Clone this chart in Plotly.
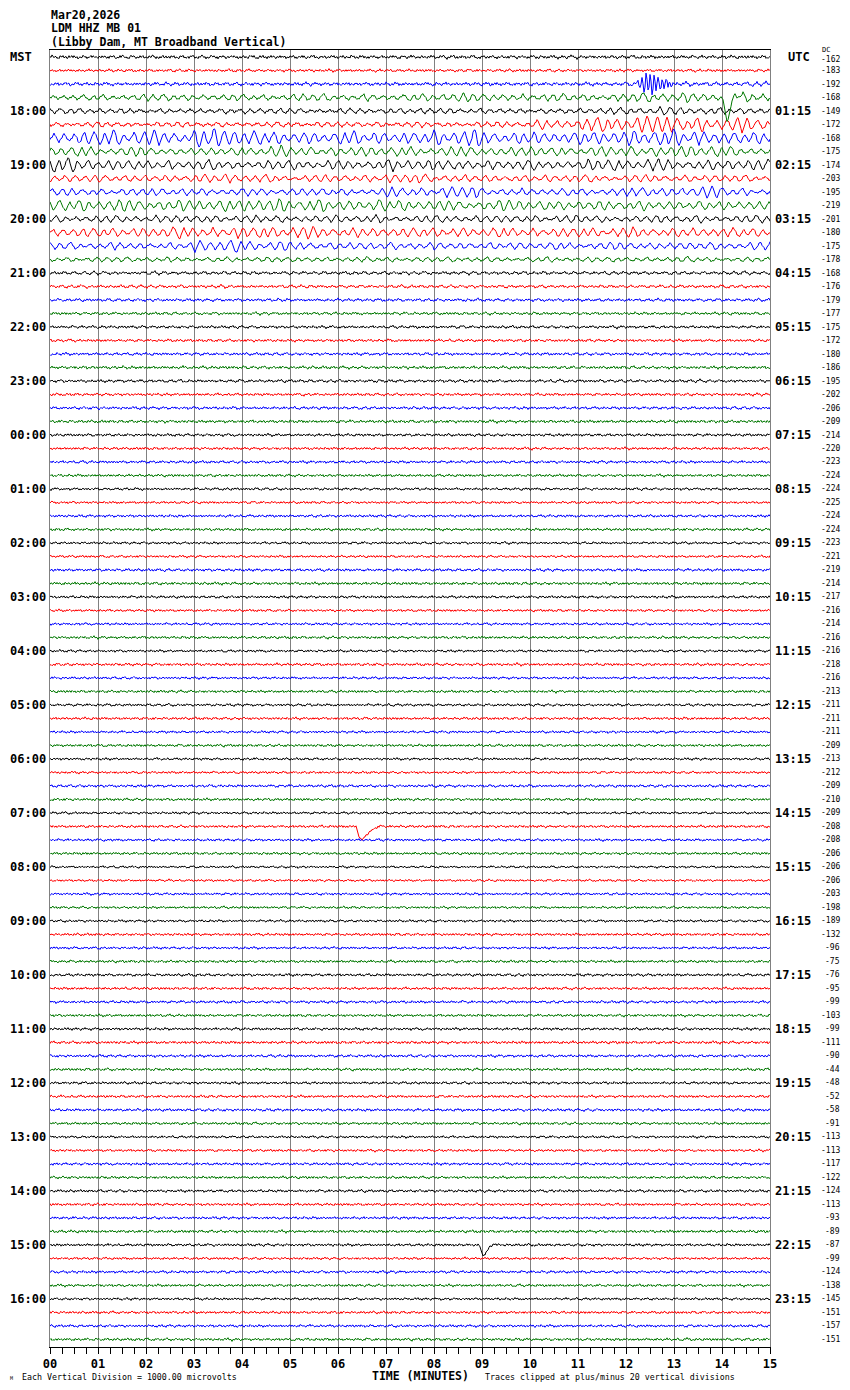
import plotly.graph_objects as go
import numpy as np

# ── header / labels ─────────────────────────────────────────────────────────
TITLE_LINES = ["Mar20,2026", "LDM HHZ MB 01", "(Libby Dam, MT Broadband Vertical)"]
MST_LABELS = ["18:00", "19:00", "20:00", "21:00", "22:00", "23:00", "00:00", "01:00",
              "02:00", "03:00", "04:00", "05:00", "06:00", "07:00", "08:00", "09:00",
              "10:00", "11:00", "12:00", "13:00", "14:00", "15:00", "16:00"]
UTC_LABELS = ["01:15", "02:15", "03:15", "04:15", "05:15", "06:15", "07:15", "08:15",
              "09:15", "10:15", "11:15", "12:15", "13:15", "14:15", "15:15", "16:15",
              "17:15", "18:15", "19:15", "20:15", "21:15", "22:15", "23:15"]
MINUTE_LABELS = ["00", "01", "02", "03", "04", "05", "06", "07",
                 "08", "09", "10", "11", "12", "13", "14", "15"]

# DC offset printed at the right of each of the 96 traces
DC_OFFSETS = [-162, -183, -192, -168, -149, -172, -168, -175, -174, -203, -195, -219,
              -201, -180, -175, -178, -168, -176, -179, -177, -175, -172, -180, -186,
              -195, -202, -206, -209, -214, -220, -223, -224, -224, -225, -224, -224,
              -223, -221, -219, -214, -217, -216, -214, -216, -216, -218, -216, -213,
              -211, -211, -211, -209, -213, -212, -209, -210, -209, -208, -208, -206,
              -206, -206, -203, -198, -189, -132, -96, -75, -76, -95, -99, -103,
              -99, -111, -90, -44, -48, -52, -58, -91, -113, -113, -117, -122,
              -124, -113, -93, -89, -87, -99, -124, -138, -145, -151, -157, -151]

TRACE_COLORS = ["#000000", "#ff0000", "#0000ff", "#007800"]

# ── waveform texture (hand-read, pixels) ────────────────────────────────────
# short period jitter shape
NOISE_SHAPE = [0.3, -0.6, 0.9, -0.2, -0.8, 0.5, 0.7, -0.4, 0.1, -0.9,
               0.8, 0.0, -0.5, 0.6, -0.7, 0.2, 0.9, -0.6, -0.3, 1.0,
               -0.5, 0.1, 0.4, -1.0, 0.6, -0.1, -0.3, 0.8, -0.7, 0.2,
               0.5, -0.4, -0.8, 0.7, 0.1, -0.2, 0.9, -0.6, 0.3, -0.5,
               0.0, 0.6, -0.9, 0.4, 0.2, -0.3, 0.8, -0.1, -0.7, 0.5,
               0.3, -0.8, 0.6, -0.4, 0.1, 0.9, -0.2, -0.6, 0.4, -0.9,
               0.7, 0.2, -0.5, 0.0, 0.8, -0.3, -0.7, 0.5, 0.1, -0.4,
               0.9, -0.8, 0.3, 0.6, -0.2, -0.5, 0.7, -0.1, 0.4, -0.9,
               0.2, 0.8, -0.6, -0.3, 0.5, 0.0, -0.7, 0.6, 0.3, -0.4,
               0.9, -0.5, -0.1, 0.7, -0.8, 0.2, 0.4]
# microseism swell shape (periods of ~8-12 px)
SWELL_SHAPE = [0, .6, 1, .9, .5, -.1, -.7, -1, -.8, -.4,
               .1, .6, .85, .7, .2, -.4, -.85, -.9, -.5,
               -.1, .3, .7, 1, .95, .6, .1, -.4, -.8, -1, -.9, -.5,
               0, .5, .7, .4, -.1, -.6, -.7, -.4,
               0, .4, .8, 1, .8, .3, -.3, -.8, -1, -.8, -.4,
               .1, .5, .6, .4, 0, -.3, -.5, -.5, -.3, -.1,
               .2, .7, 1, .8, .3, -.3, -.8, -1, -.6,
               -.2, .2, .6, .9, .8, .4, -.1, -.6, -.9, -.8, -.4]
# slow beating of the swell, one value per 14 px block
SWELL_ENV = [1.0, 0.7, 1.2, 0.5, 0.9, 1.3, 0.6, 1.0, 0.4, 1.1, 0.8, 1.2,
             0.6, 0.9, 1.3, 0.7, 0.5, 1.0, 1.2, 0.8, 0.6, 1.1, 0.9]

# swell half-amplitude per minute for the first 17 traces (px)
SWELL_TOP = [
    [1, 1, 1, 1, 1, 1, 1, 1, 1, 1, 1, 1, 1, 1, 1],
    [.8, .8, .8, .8, .8, .8, .8, .8, .8, .8, .8, .8, .8, .8, .8],
    [1, 1, 1, 1, 1, 1, 1, 1, 1, 1, 1, 1, 1.5, 1.5, 1.5],
    [2.5, 2.5, 3, 2.5, 2.5, 3, 2.5, 3, 4, 3, 3, 3, 4, 4, 4],
    [2.5, 2, 2, 2, 2.5, 2, 2, 2.5, 2.5, 2, 2, 2.5, 3.5, 3, 2.5],
    [2, 2, 2, 2, 2, 2, 2, 2, 2, 2.5, 4, 6, 8, 6, 6],
    [6, 7, 6, 9, 6, 5, 6, 5, 7, 6, 5, 6, 7, 7, 5],
    [4, 4, 3, 3, 5, 4, 4, 4, 4, 4, 4, 4, 5, 5, 4],
    [6, 4, 4, 4, 4, 4, 4, 5, 4, 4, 4, 5, 5, 4, 5],
    [3, 3, 3, 4, 3, 3, 3, 4, 3, 3, 3, 3, 3, 3, 3],
    [3, 3, 3, 3, 3, 3, 3, 4, 5, 3, 3, 3, 4, 5, 4],
    [5, 5, 5, 5, 6, 5, 5, 5, 4, 5, 4, 4, 4, 4, 4],
    [3, 3, 3, 3, 3, 3, 3, 3, 3, 3, 3, 3, 3, 3, 3],
    [4, 4, 5, 5, 5, 5, 4, 4, 4, 4, 4, 4, 4, 4, 4],
    [3, 3, 3, 5, 5, 3, 3, 3, 3, 3, 3, 3, 3, 3, 3],
    [2, 2, 2, 2, 2, 2, 2, 2, 2, 2, 2, 2, 2, 2, 2],
    [1.2, 1.2, 1.2, 1.2, 1.2, 1.2, 1.2, 1.2, 1.2, 1.2, 1.2, 1.2, 1.2, 1.2, 1.2],
]
# swell half-amplitude for the quiet traces 17..95 (px)
SWELL_QUIET = [1.0, .9, .8, .8, .7, .8, .8, .9, .7, .8, .7, .7,
               .6, .7, .6, .7, .6, .6, .6, .6, .6, .7, .6, .6,
               .6, .6, .7, .6, .7, .6, .6, .7, .6, .6, .6, .6,
               .6, .7, .6, .6, .6, .6, .6, .6, .6, .6, .6, .6,
               .6, .6, .6, .7, .6, .7, .6, .6, .6, .7, .6, .6,
               .6, .7, .6, .6, .6, .6, .6, .7, .6, .6, .6, .6,
               .6, .7, .6, .6, .6, .6, .7]
# short period jitter half-amplitude, all 96 traces (px)
NOISE_AMP = [1.4, 1.2, 1.4, 1.2, 1.2, 1.2, 1.0, 1.0, 1.0, 1.0, 1.0, 1.0,
             1.0, 1.0, 1.0, 1.0, 1.2, 1.2, 1.2, 1.2, 1.2, 1.2, 1.2, 1.3,
             1.2, 1.2, 1.2, 1.3, 1.2, 1.2, 1.2, 1.2, 1.1, 1.1, 1.2, 1.2,
             1.1, 1.1, 1.2, 1.3, 1.2, 1.1, 1.1, 1.2, 1.1, 1.2, 1.1, 1.2,
             1.1, 1.2, 1.1, 1.2, 1.1, 1.1, 1.2, 1.2, 1.1, 1.2, 1.1, 1.2,
             1.0, 1.0, 1.1, 1.1, 1.1, 1.2, 1.1, 1.2, 1.2, 1.2, 1.2, 1.2,
             1.2, 1.3, 1.2, 1.2, 1.2, 1.2, 1.2, 1.2, 1.1, 1.1, 1.2, 1.2,
             1.2, 1.2, 1.2, 1.3, 1.2, 1.1, 1.2, 1.2, 1.1, 1.2, 1.2, 1.2]

# discrete arrivals: trace row, start minute, offsets in px (up is positive)
EVENT_ROWS = [2, 3, 57, 88]
EVENT_START_MIN = [12.22, 14.0, 6.40, 8.96]
EVENT_SHAPES = [
    [0, 3, -1, -4, 2, 7, 0, -8, -3, 9, 4, -7, -2, 10, 3, -9, -4, 8, 2, -7, -1, 6,
     3, -5, -2, 5, 1, -4, -1, 3, 2, -3, 0, 2, -1, -2, 1, 1, 0, 0],
    [-2, -6, -11, -16, -20, -22, -19, -15, -11, -7, -4, -2, 0, 1, 2, 3, 3, 2, 1, 0],
    [-3, -7, -10, -12, -13, -13, -12, -11, -10, -9, -8, -7, -6, -5, -4, -4, -3,
     -2, -2, -1, -1, 0, 0, 0, 0],
    [-2, -6, -9, -10, -10, -9, -8, -7, -5, -3, -2, -1, 0, 1, 1, 1, 0],
]

N_ROWS = 96
SAMPLES_PER_MIN = 48          # one sample per screen pixel
PX_PER_ROW = 13.5
ENV_BLOCK = 14

# ── page geometry (page pixels; the html body adds an 8 px margin) ─────────
BODY = 8
PAGE_W, PAGE_H = 850, 1390
PLOT_L, PLOT_R, PLOT_T, PLOT_B = 50, 770, 50, 1347
DC_RIGHT = 841                # right edge of the DC column (page clips past ~842)
FONT_MONO = "DejaVu Sans Mono"


def px_x(p):
    return (p - PLOT_L) / (PLOT_R - PLOT_L)


def px_y(p):
    return (PLOT_B - p) / (PLOT_B - PLOT_T)


n_samp = 15 * SAMPLES_PER_MIN + 1
minutes = np.arange(n_samp) / SAMPLES_PER_MIN
noise = np.array(NOISE_SHAPE)
swell = np.array(SWELL_SHAPE)
env_raw = np.array(SWELL_ENV)
idx = np.arange(n_samp)
minute_bin = np.minimum(idx // SAMPLES_PER_MIN, 14)
kernel = np.ones(ENV_BLOCK) / ENV_BLOCK

rows_px = []
for r in range(N_ROWS):
    if r < len(SWELL_TOP):
        s_amp = np.array(SWELL_TOP[r])[minute_bin]
    else:
        s_amp = SWELL_QUIET[r - len(SWELL_TOP)]
    env = env_raw[((idx // ENV_BLOCK) + 5 * r) % len(env_raw)]
    env = np.convolve(env, kernel, mode="same")
    env[:ENV_BLOCK] = env[ENV_BLOCK]
    env[-ENV_BLOCK:] = env[-ENV_BLOCK - 1]
    y = (s_amp * env * swell[(idx + 23 * r) % len(swell)]
         + NOISE_AMP[r] * noise[(idx + 31 * r) % len(noise)])
    rows_px.append(y)

for row, start, shape in zip(EVENT_ROWS, EVENT_START_MIN, EVENT_SHAPES):
    i0 = int(round(start * SAMPLES_PER_MIN))
    seg = np.array(shape, dtype=float)
    rows_px[row][i0:i0 + len(seg)] += seg

fig = go.Figure()
for c, color in enumerate(TRACE_COLORS):
    xs, ys = [], []
    for r in range(c, N_ROWS, 4):
        xs.extend(minutes.tolist() + [None])
        ys.extend((r - rows_px[r] / PX_PER_ROW).tolist() + [None])
    fig.add_trace(go.Scatter(
        x=xs, y=ys, mode="lines",
        line=dict(color=color, width=1),
        hoverinfo="skip", showlegend=False,
    ))

bold12 = dict(family=FONT_MONO, size=12, color="black", weight="bold")
ann = []
# header
for k, line in enumerate(TITLE_LINES):
    ann.append(dict(text=line, xref="paper", yref="paper", x=0, y=px_y(15 + 13.5 * k),
                    xanchor="left", yanchor="middle", showarrow=False, borderpad=0,
                    font=dict(family=FONT_MONO, size=11.5, color="black", weight="bold")))
# left / right time labels
ann.append(dict(text="MST", xref="paper", yref="y", x=px_x(BODY), y=0,
                xanchor="left", yanchor="middle", showarrow=False, font=bold12))
ann.append(dict(text="UTC", xref="paper", yref="y", x=px_x(786), y=0,
                xanchor="left", yanchor="middle", showarrow=False, font=bold12))
for k, (mst, utc) in enumerate(zip(MST_LABELS, UTC_LABELS)):
    row = 4 * (k + 1)
    ann.append(dict(text=mst, xref="paper", yref="y", x=px_x(48), y=row,
                    xanchor="right", yanchor="middle", showarrow=False, font=bold12))
    ann.append(dict(text=utc, xref="paper", yref="y", x=px_x(773), y=row,
                    xanchor="left", yanchor="middle", showarrow=False, font=bold12))
# DC offsets
ann.append(dict(text="DC", xref="paper", yref="paper", x=px_x(DC_RIGHT - 21), y=px_y(50),
                xanchor="left", yanchor="middle", showarrow=False,
                font=dict(family=FONT_MONO, size=7, color="black")))
for r, dc in enumerate(DC_OFFSETS):
    ann.append(dict(text=str(dc), xref="paper", yref="y", x=px_x(DC_RIGHT), y=r + (0.2 if r == 0 else 0),
                    xanchor="right", yanchor="middle", showarrow=False, borderpad=0,
                    font=dict(family=FONT_MONO, size=8, color="black")))
# footer
ann.append(dict(text="TIME (MINUTES)", xref="paper", yref="paper", x=px_x(421), y=px_y(1376),
                xanchor="center", yanchor="middle", showarrow=False,
                font=dict(family=FONT_MONO, size=11.5, color="black", weight="bold")))
ann.append(dict(text="Each Vertical Division = 1000.00 microvolts", xref="paper", yref="paper",
                x=px_x(20), y=px_y(1377), xanchor="left", yanchor="middle", showarrow=False,
                font=dict(family=FONT_MONO, size=8.3, color="black")))
ann.append(dict(text="Traces clipped at plus/minus 20 vertical divisions", xref="paper", yref="paper",
                x=px_x(483), y=px_y(1377), xanchor="left", yanchor="middle", showarrow=False,
                font=dict(family=FONT_MONO, size=8.3, color="black")))
ann.append(dict(text="M", xref="paper", yref="paper", x=px_x(BODY), y=px_y(1378),
                xanchor="left", yanchor="middle", showarrow=False,
                font=dict(family=FONT_MONO, size=5, color="black")))

fig.update_layout(
    # keep the whole page inside the 850x1390 window (no scrollbars)
    width=PAGE_W - BODY, height=PAGE_H - 2 * BODY,
    margin=dict(l=PLOT_L - BODY, r=PAGE_W - PLOT_R, t=PLOT_T - BODY, b=PAGE_H - BODY - PLOT_B),
    paper_bgcolor="white", plot_bgcolor="white",
    xaxis=dict(
        range=[0, 15], tickvals=list(range(16)), ticktext=MINUTE_LABELS,
        ticks="outside", ticklen=6, tickcolor="black", tickwidth=1,
        minor=dict(dtick=0.25, ticks="outside", ticklen=6, tickcolor="black", showgrid=False),
        showgrid=True, gridcolor="#808080", gridwidth=1,
        showline=True, linecolor="black", linewidth=1, mirror=True,
        zeroline=False,
        tickfont=dict(family=FONT_MONO, size=12, color="black", weight="bold"),
    ),
    yaxis=dict(
        range=[95.56, -0.52], showticklabels=False, ticks="",
        showgrid=False, zeroline=False,
        showline=True, linecolor="#808080", linewidth=1, mirror=True,
    ),
    annotations=ann,
)

fig.write_html("out.html")
